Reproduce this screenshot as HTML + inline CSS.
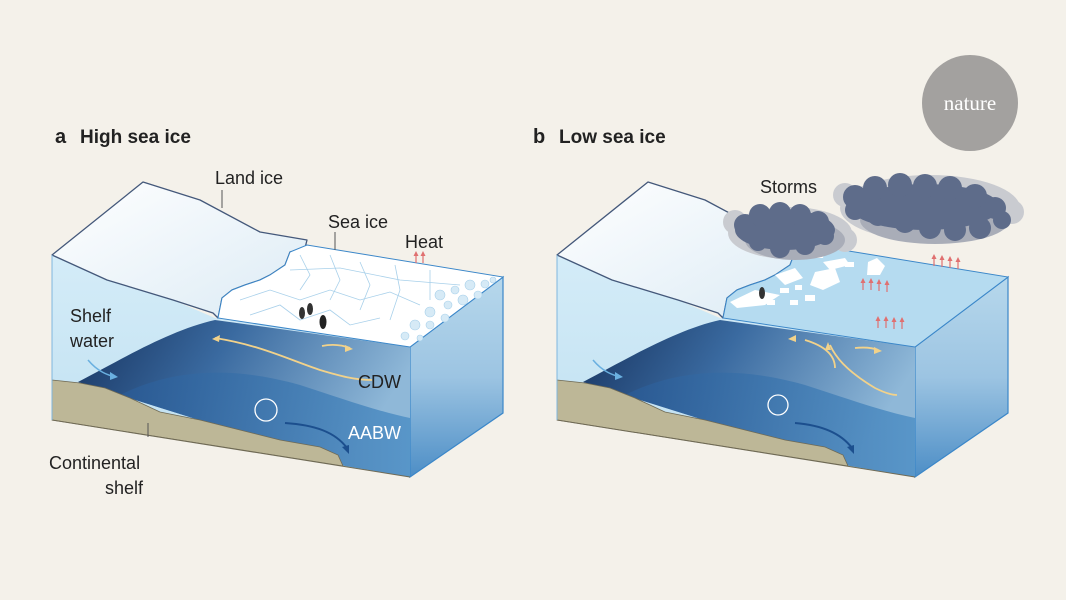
<!DOCTYPE html>
<html><head><meta charset="utf-8"><style>
html,body{margin:0;padding:0;background:#f4f1ea;}
svg{display:block}
text{font-family:"Liberation Sans",sans-serif;}
</style></head><body>
<svg width="1066" height="600" viewBox="0 0 1066 600" xmlns="http://www.w3.org/2000/svg">
<defs>
<linearGradient id="deep" x1="0" y1="0" x2="1" y2="0.3">
<stop offset="0" stop-color="#17335f"/><stop offset="0.45" stop-color="#3a6aa0"/><stop offset="1" stop-color="#8fb8d8"/>
</linearGradient>
<linearGradient id="aabw" x1="0" y1="0" x2="1" y2="0">
<stop offset="0" stop-color="#2a5a94"/><stop offset="1" stop-color="#4f90c6"/>
</linearGradient>
<linearGradient id="right" x1="0" y1="0" x2="0" y2="1">
<stop offset="0" stop-color="#b7d8ec"/><stop offset="0.5" stop-color="#9cc4e2"/><stop offset="1" stop-color="#4d8ec6"/>
</linearGradient>
<linearGradient id="land" x1="0" y1="0" x2="1" y2="1">
<stop offset="0" stop-color="#ffffff"/><stop offset="1" stop-color="#dcebf5"/>
</linearGradient>
<linearGradient id="shelfw" x1="0" y1="0" x2="0" y2="1">
<stop offset="0" stop-color="#d4ecf8"/><stop offset="0.8" stop-color="#c3e2f2"/><stop offset="1" stop-color="#a9c6c0"/>
</linearGradient>
<g id="block">
  <polygon points="410,347 503,277 503,413 410,477" fill="url(#right)" stroke="#3b87c9" stroke-width="1.2"/>
  <polygon points="52,255 107,280 173,300 215,318 410,347 410,477 52,420" fill="url(#shelfw)"/>
  <path d="M78,382 C120,360 170,330 215,320 L410,347 L410,477 L345,466 Z" fill="url(#deep)"/>
  <path d="M120,395 C170,370 230,365 300,385 C340,398 380,412 410,418 L410,477 L345,466 Z" fill="url(#aabw)" opacity="0.85"/>
  <polygon points="52,380 80,383 105,388 130,398 160,412 200,420 240,430 280,440 320,447 338,455 343,466 52,420" fill="#bdb797" stroke="#6f6a55" stroke-width="0.8"/>
  <line x1="52" y1="420" x2="410" y2="477" stroke="#6f6a55" stroke-width="1"/>
  <polygon points="52,255 143,182 200,200 260,232 307,240 305,248 290,252 285,265 270,275 260,280 245,285 232,290 222,298 218,318 213,313 173,300 107,280" fill="url(#land)" stroke="#44587a" stroke-width="1.3" stroke-linejoin="round"/>
  <line x1="52" y1="255" x2="52" y2="420" stroke="#7fb6de" stroke-width="1"/>
</g>
<g id="heat" stroke="#e07070" stroke-width="1.2" fill="#e07070">
  <line x1="0" y1="11" x2="0" y2="2"/><path d="M-2.5,4 L0,-1 L2.5,4 Z" stroke="none"/>
</g>
</defs>

<circle cx="970" cy="103" r="48" fill="#a3a19f"/>
<text x="970" y="110" font-size="21" fill="#fff" text-anchor="middle" style="font-family:'Liberation Serif',serif">nature</text>

<text x="55" y="143" font-size="20" font-weight="bold" fill="#222">a</text>
<text x="80" y="143" font-size="19" font-weight="bold" fill="#222">High sea ice</text>
<text x="533" y="143" font-size="20" font-weight="bold" fill="#222">b</text>
<text x="559" y="143" font-size="19" font-weight="bold" fill="#222">Low sea ice</text>

<!-- PANEL A -->
<use href="#block"/>
<polygon points="218,318 222,298 232,290 245,285 260,280 270,275 285,265 290,252 307,245 503,277 410,347" fill="#ffffff" stroke="#3b87c9" stroke-width="1"/>
<g stroke="#a8d0ea" stroke-width="0.8" fill="none">
<path d="M240,300 L270,290 L300,300 L330,290 L360,300 L390,292 L420,305"/>
<path d="M250,315 L280,305 L300,320 L330,310 L350,325 L380,318"/>
<path d="M300,255 L310,275 L300,290 M330,255 L340,280 L330,300 M360,262 L370,285 L360,310 M395,265 L400,290 L390,320 M430,270 L430,300"/>
<path d="M290,270 L340,268 L400,280 L460,285"/>
</g>
<g fill="#d6eaf6" stroke="#a8d0ea" stroke-width="0.6">
<circle cx="440" cy="295" r="5"/><circle cx="455" cy="290" r="4"/><circle cx="470" cy="285" r="5"/><circle cx="485" cy="284" r="4"/>
<circle cx="430" cy="312" r="5"/><circle cx="448" cy="305" r="4"/><circle cx="463" cy="300" r="5"/><circle cx="478" cy="295" r="4"/>
<circle cx="415" cy="325" r="5"/><circle cx="430" cy="325" r="4"/><circle cx="445" cy="318" r="4"/><circle cx="405" cy="336" r="4"/>
<circle cx="493" cy="280" r="3"/><circle cx="420" cy="338" r="3"/>
</g>
<ellipse cx="302" cy="313" rx="3" ry="6" fill="#333"/><ellipse cx="310" cy="309" rx="3" ry="6" fill="#333"/><ellipse cx="323" cy="322" rx="3.5" ry="7" fill="#222"/>
<path d="M215,338 C260,345 290,360 320,370 C340,376 355,380 372,380" stroke="#f2d28a" stroke-width="1.8" fill="none"/>
<path d="M212,339 l8,-4 l-1,7 z" fill="#f2d28a"/>
<path d="M322,346 C332,344 342,345 350,348" stroke="#f2d28a" stroke-width="1.8" fill="none"/>
<path d="M353,349 l-8,-4 l0,7 z" fill="#f2d28a"/>
<path d="M88,360 C98,372 108,375 115,377" stroke="#6ab0e0" stroke-width="1.5" fill="none"/>
<path d="M118,377 l-8,-5 l0,8 z" fill="#6ab0e0"/>
<circle cx="266" cy="410" r="11" fill="none" stroke="#fff" stroke-width="1.3"/>
<path d="M285,423 C315,425 335,432 347,448" stroke="#1c4f8e" stroke-width="2" fill="none"/>
<path d="M349,454 l-7,-7 l7,-2 z" fill="#1c4f8e"/>
<use href="#heat" x="416" y="252"/><use href="#heat" x="423" y="252"/>
<g font-size="18" fill="#222">
<text x="215" y="184">Land ice</text>
<text x="328" y="228">Sea ice</text>
<text x="405" y="248">Heat</text>
<text x="70" y="322">Shelf</text>
<text x="70" y="347">water</text>
<text x="358" y="388">CDW</text>
<text x="348" y="439" fill="#fff">AABW</text>
<text x="49" y="469">Continental</text>
<text x="105" y="494">shelf</text>
</g>
<g stroke="#555" stroke-width="1"><line x1="222" y1="190" x2="222" y2="208"/><line x1="335" y1="232" x2="335" y2="250"/><line x1="148" y1="423" x2="148" y2="437"/></g>

<!-- PANEL B -->
<g transform="translate(505,0)">
<use href="#block"/>
<polygon points="218,318 222,298 232,290 245,285 260,280 270,275 285,265 290,252 307,245 503,277 410,347" fill="#b5dbf0" stroke="#3b87c9" stroke-width="1"/>
<g fill="#ffffff">
<polygon points="225,302 250,290 275,295 260,305 232,308"/>
<polygon points="270,275 290,268 298,278 280,285"/>
<polygon points="310,272 330,268 335,282 318,290 305,285"/>
<polygon points="318,262 340,258 345,265 325,270"/>
<polygon points="305,250 320,250 318,258 306,258"/>
<polygon points="363,262 372,258 380,266 375,275 362,275"/>
<rect x="300" y="295" width="10" height="6"/><rect x="285" y="300" width="8" height="5"/><rect x="262" y="300" width="8" height="5"/>
<rect x="275" y="288" width="9" height="5"/><rect x="290" y="285" width="7" height="5"/><rect x="340" y="262" width="9" height="5"/>
</g>
<path d="M330,368 C330,355 320,346 300,340" stroke="#f2d28a" stroke-width="1.8" fill="none"/>
<path d="M325,345 C330,356 340,370 370,388 C380,393 388,395 392,395" stroke="#f2d28a" stroke-width="1.8" fill="none"/>
<path d="M283,339 l8,-4 l0,7 z" fill="#f2d28a"/>
<path d="M323,342 l-3,8 l6,0 z" fill="#f2d28a"/>
<path d="M350,348 C360,347 368,348 373,350" stroke="#f2d28a" stroke-width="1.8" fill="none"/>
<path d="M377,351 l-8,-4 l0,7 z" fill="#f2d28a"/>
<path d="M88,360 C98,372 108,375 115,377" stroke="#6ab0e0" stroke-width="1.5" fill="none"/>
<path d="M118,377 l-8,-5 l0,8 z" fill="#6ab0e0"/>
<circle cx="273" cy="405" r="10" fill="none" stroke="#fff" stroke-width="1.3"/>
<path d="M290,423 C315,425 335,432 347,448" stroke="#1c4f8e" stroke-width="2" fill="none"/>
<path d="M349,454 l-7,-7 l7,-2 z" fill="#1c4f8e"/>
<ellipse cx="257" cy="293" rx="3" ry="6" fill="#333"/>
<use href="#heat" x="358" y="279"/><use href="#heat" x="366" y="279"/><use href="#heat" x="374" y="280"/><use href="#heat" x="382" y="281"/>
<use href="#heat" x="373" y="317"/><use href="#heat" x="381" y="317"/><use href="#heat" x="389" y="318"/><use href="#heat" x="397" y="318"/>
<use href="#heat" x="429" y="255"/><use href="#heat" x="437" y="256"/><use href="#heat" x="445" y="257"/><use href="#heat" x="453" y="258"/>
</g>
<!-- clouds -->
<g fill="#c9cbd0">
<ellipse cx="790" cy="233" rx="62" ry="26"/><ellipse cx="930" cy="208" rx="90" ry="33"/>
<circle cx="735" cy="222" r="12"/><circle cx="845" cy="240" r="12"/><circle cx="1012" cy="212" r="12"/><circle cx="845" cy="195" r="12"/>
</g>
<g fill="#a9adb8">
<ellipse cx="795" cy="240" rx="50" ry="20"/><ellipse cx="935" cy="220" rx="75" ry="24"/>
</g>
<g fill="#5e6c8a">
<ellipse cx="785" cy="230" rx="50" ry="20"/>
<circle cx="745" cy="225" r="11"/><circle cx="760" cy="215" r="11"/><circle cx="780" cy="213" r="11"/><circle cx="800" cy="215" r="11"/><circle cx="818" cy="222" r="11"/><circle cx="825" cy="236" r="9"/><circle cx="805" cy="245" r="10"/><circle cx="780" cy="248" r="10"/><circle cx="758" cy="242" r="9"/>
<ellipse cx="925" cy="207" rx="75" ry="23"/>
<circle cx="855" cy="197" r="12"/><circle cx="875" cy="188" r="12"/><circle cx="900" cy="185" r="12"/><circle cx="925" cy="186" r="12"/><circle cx="950" cy="188" r="12"/><circle cx="975" cy="196" r="12"/><circle cx="995" cy="208" r="11"/><circle cx="1002" cy="220" r="9"/><circle cx="980" cy="228" r="11"/><circle cx="955" cy="230" r="11"/><circle cx="930" cy="228" r="11"/><circle cx="905" cy="222" r="11"/><circle cx="878" cy="215" r="11"/><circle cx="855" cy="210" r="10"/>
</g>
<text x="760" y="193" font-size="18" fill="#222">Storms</text>
</svg>
</body></html>
